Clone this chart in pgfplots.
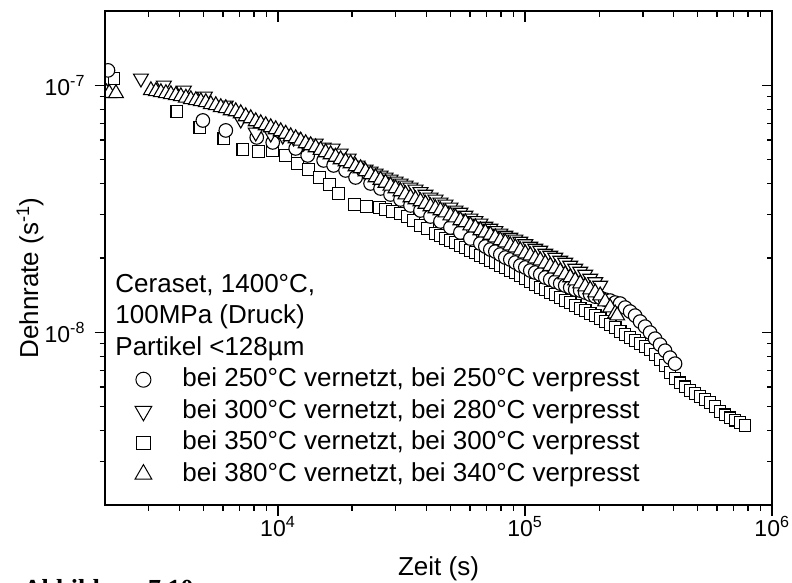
\documentclass[border=0pt]{standalone}
\usepackage{fontspec}
\setmainfont{Liberation Sans}
\newfontfamily\seriffont{Liberation Serif}
\usepackage{pgfplots}
\pgfplotsset{compat=1.18}
\begin{document}
\begin{tikzpicture}
\begin{axis}[
  xmode=log, ymode=log,
  scale only axis, width=667pt, height=494pt,
  xmin=2000, xmax=1e6, ymin=2e-9, ymax=2e-7,
  axis line style={line width=1.7pt},
  major tick style={black, line width=1.5pt},
  minor tick style={black, line width=1.5pt},
  major tick length=10.5pt, minor tick length=5.5pt,
  xtick={1e4,1e5,1e6},
  ytick={1e-8,1e-7},
  minor xtick={3e3,4e3,5e3,6e3,7e3,8e3,9e3,2e4,3e4,4e4,5e4,6e4,7e4,8e4,9e4,2e5,3e5,4e5,5e5,6e5,7e5,8e5,9e5},
  minor ytick={3e-9,4e-9,5e-9,6e-9,7e-9,8e-9,9e-9,2e-8,3e-8,4e-8,5e-8,6e-8,7e-8,8e-8,9e-8},
  tick align=outside, xtick pos=left, ytick pos=left,
  xticklabels={10\textsuperscript{4},10\textsuperscript{5},10\textsuperscript{6}},
  yticklabels={10\textsuperscript{-8},10\textsuperscript{-7}},
  ticklabel style={font=\fontsize{23}{28}\selectfont},
  xticklabel style={yshift=3pt},
  yticklabel style={xshift=-6pt},
  xlabel={Zeit (s)}, ylabel={Dehnrate (s\textsuperscript{-1})},
  label style={font=\fontsize{26}{31}\selectfont},
  xlabel style={at={(axis description cs:0.5,-0.1417)}, anchor=base},
  ylabel style={at={(axis description cs:-0.1004,0.4595)}, anchor=base},
  clip marker paths=true,
  legend cell align=left,
  legend style={draw=none, fill=none, at={(0.0445,0.4717)}, anchor=north west,
    inner sep=0pt, column sep=30.7pt, row sep=5.5pt,
    nodes={inner sep=0pt, text height=20pt, text depth=6pt},
    font=\fontsize{26}{31}\selectfont},
]
\addlegendimage{empty legend}
\addlegendentry{\hspace*{-67pt}Ceraset, 1400°C,}
\addlegendimage{empty legend}
\addlegendentry{\hspace*{-67pt}100MPa (Druck)}
\addlegendimage{empty legend}
\addlegendentry{\hspace*{-67pt}Partikel <128µm}
\addlegendimage{only marks, mark=*, mark size=7.5pt, mark options={fill=white, draw=black, line width=1pt}}
\addlegendentry{bei 250°C vernetzt, bei 250°C verpresst}
\addlegendimage{only marks, mark=triangle*, mark size=9.6pt, mark options={fill=white, draw=black, line width=1pt, rotate=180}}
\addlegendentry{bei 300°C vernetzt, bei 280°C verpresst}
\addlegendimage{only marks, mark=square*, mark size=6.6pt, mark options={fill=white, draw=black, line width=1pt}}
\addlegendentry{bei 350°C vernetzt, bei 300°C verpresst}
\addlegendimage{only marks, mark=triangle*, mark size=9.6pt, mark options={fill=white, draw=black, line width=1pt}}
\addlegendentry{bei 380°C vernetzt, bei 340°C verpresst}

% squares: 350/300
\addplot[only marks, forget plot, mark=square*, mark size=5.8pt, mark options={fill=white, draw=black, line width=1.1pt}] table {
x y
2174 1.0675e-7
3906 7.845e-8
4839 6.758e-8
6048 6.099e-8
7218 5.504e-8
8377 5.402e-8
9542 5.453e-8
10770 5.204e-8
12041 4.830e-8
13338 4.567e-8
14775 4.238e-8
16215 3.971e-8
17631 3.650e-8
20461 3.295e-8
22878 3.234e-8
25819 3.204e-8
27300 3.144e-8
29138 3.086e-8
31388 3.029e-8
33501 2.945e-8
35422 2.838e-8
37806 2.708e-8
40351 2.633e-8
43467 2.514e-8
45537 2.467e-8
47705 2.399e-8
49976 2.355e-8
52355 2.311e-8
54847 2.247e-8
57458 2.205e-8
60194 2.145e-8
63060 2.105e-8
66062 2.047e-8
69207 2.009e-8
72502 1.954e-8
75953 1.918e-8
79569 1.865e-8
83357 1.831e-8
87326 1.780e-8
91483 1.747e-8
95838 1.699e-8
100400 1.652e-8
105180 1.606e-8
110190 1.562e-8
115430 1.518e-8
120930 1.490e-8
126680 1.450e-8
132720 1.423e-8
139030 1.383e-8
145650 1.345e-8
152590 1.320e-8
159850 1.284e-8
167460 1.249e-8
175430 1.225e-8
183780 1.191e-8
192530 1.169e-8
201700 1.137e-8
211300 1.106e-8
221360 1.075e-8
231900 1.045e-8
242940 1.008e-8
254500 9.80e-9
266620 9.52e-9
279310 9.26e-9
292610 9.00e-9
306540 8.76e-9
321130 8.52e-9
336420 8.12e-9
352430 7.76e-9
369210 7.33e-9
386790 6.87e-9
405200 6.50e-9
424490 6.25e-9
444700 6.02e-9
465870 5.81e-9
488050 5.65e-9
511280 5.49e-9
535620 5.34e-9
561120 5.19e-9
587830 5.00e-9
615820 4.78e-9
645130 4.64e-9
675840 4.51e-9
708020 4.41e-9
741720 4.31e-9
777030 4.19e-9
};

% circles: 250/250
\addplot[only marks, forget plot, mark=*, mark size=6.8pt, mark options={fill=white, draw=black, line width=1.1pt}] table {
x y
2056 1.150e-7
4976 7.21e-8
6162 6.57e-8
8222 6.156e-8
9542 5.875e-8
11819 5.555e-8
13215 5.204e-8
15335 4.967e-8
16830 4.741e-8
18818 4.525e-8
20652 4.238e-8
23745 4.008e-8
26060 3.825e-8
28600 3.616e-8
31388 3.452e-8
34448 3.264e-8
37806 3.115e-8
41492 2.945e-8
45537 2.812e-8
49976 2.658e-8
54847 2.537e-8
60194 2.399e-8
66062 2.290e-8
69207 2.226e-8
72502 2.165e-8
75953 2.125e-8
79569 2.066e-8
83357 2.009e-8
87326 1.972e-8
91483 1.918e-8
95838 1.865e-8
100400 1.831e-8
105180 1.780e-8
110190 1.747e-8
115430 1.715e-8
120930 1.668e-8
126680 1.637e-8
132720 1.606e-8
139030 1.576e-8
145650 1.547e-8
152590 1.518e-8
159850 1.490e-8
167460 1.477e-8
175430 1.450e-8
183780 1.423e-8
192530 1.396e-8
201700 1.383e-8
211300 1.357e-8
221360 1.345e-8
231900 1.320e-8
242940 1.308e-8
254500 1.260e-8
266620 1.214e-8
279310 1.169e-8
292610 1.106e-8
306540 1.055e-8
321130 9.98e-9
336420 9.43e-9
352430 8.92e-9
369210 8.43e-9
386790 7.90e-9
405200 7.47e-9
};

% down triangles: 300/280
\addplot[only marks, forget plot, mark=triangle*, mark size=8.6pt, mark options={fill=white, draw=black, line width=1.1pt, rotate=180}] table {
x y
1960 1.29e-7
2795 1.0675e-7
3461 1.0e-7
4170 9.544e-8
5069 9.024e-8
6162 8.298e-8
7085 7.281e-8
8146 6.450e-8
9366 6.390e-8
10473 6.272e-8
11601 6.156e-8
12732 5.875e-8
14236 5.821e-8
15335 5.607e-8
16674 5.555e-8
17962 5.302e-8
19350 5.060e-8
21040 4.741e-8
22666 4.567e-8
23745 4.483e-8
24875 4.400e-8
26060 4.318e-8
27300 4.238e-8
28600 4.160e-8
29962 4.084e-8
31388 4.008e-8
32883 3.934e-8
34448 3.861e-8
36088 3.790e-8
37806 3.702e-8
39606 3.616e-8
41492 3.517e-8
43467 3.452e-8
45537 3.357e-8
47705 3.295e-8
49976 3.204e-8
52355 3.115e-8
54847 3.057e-8
57458 2.973e-8
60194 2.891e-8
63060 2.825e-8
66062 2.760e-8
69207 2.683e-8
72502 2.633e-8
75953 2.573e-8
79569 2.514e-8
83357 2.467e-8
87326 2.421e-8
91483 2.377e-8
95838 2.333e-8
100400 2.279e-8
105180 2.226e-8
110190 2.185e-8
115430 2.145e-8
120930 2.086e-8
126680 2.047e-8
132720 2.009e-8
139030 1.954e-8
145650 1.918e-8
152590 1.865e-8
159850 1.814e-8
167460 1.763e-8
175430 1.715e-8
183780 1.652e-8
192530 1.598e-8
201700 1.547e-8
};

% up triangles: 380/340
\addplot[only marks, forget plot, mark=triangle*, mark size=8.6pt, mark options={fill=white, draw=black, line width=1.1pt}] table {
x y
1990 9.5e-8
2030 9.35e-8
2080 9.3e-8
2215 9.28e-8
3067 9.544e-8
3213 9.455e-8
3366 9.368e-8
3527 9.281e-8
3695 9.194e-8
3870 9.109e-8
4055 9.024e-8
4248 8.899e-8
4450 8.775e-8
4662 8.694e-8
4884 8.613e-8
5116 8.533e-8
5360 8.375e-8
5615 8.298e-8
5882 8.145e-8
6162 8.069e-8
6456 7.919e-8
6763 7.845e-8
7085 7.700e-8
7422 7.488e-8
7776 7.349e-8
8146 7.147e-8
8534 7.015e-8
8940 6.885e-8
9366 6.758e-8
9812 6.633e-8
10280 6.510e-8
10770 6.360e-8
11282 6.214e-8
11819 6.099e-8
12382 5.964e-8
12971 5.821e-8
13589 5.713e-8
14236 5.607e-8
14913 5.47e-8
15623 5.352e-8
16367 5.253e-8
17146 5.132e-8
17962 5.013e-8
18818 4.921e-8
19714 4.830e-8
20652 4.697e-8
21636 4.610e-8
22666 4.483e-8
23745 4.359e-8
24875 4.238e-8
26060 4.14e-8
27300 4.027e-8
28600 3.92e-8
29962 3.825e-8
31388 3.719e-8
32883 3.616e-8
34448 3.517e-8
36088 3.452e-8
37806 3.388e-8
39606 3.310e-8
41492 3.234e-8
43467 3.174e-8
45537 3.115e-8
47705 3.057e-8
49976 2.973e-8
52355 2.918e-8
54847 2.838e-8
57458 2.786e-8
60194 2.708e-8
63060 2.658e-8
66062 2.585e-8
69207 2.537e-8
72502 2.479e-8
75953 2.421e-8
79569 2.355e-8
83357 2.311e-8
87326 2.247e-8
91483 2.205e-8
95838 2.145e-8
100400 2.086e-8
105180 2.047e-8
110190 1.990e-8
115430 1.954e-8
120930 1.900e-8
126680 1.856e-8
132720 1.814e-8
139030 1.763e-8
145650 1.715e-8
152590 1.668e-8
159850 1.621e-8
167460 1.576e-8
175430 1.533e-8
183780 1.490e-8
192530 1.450e-8
201700 1.409e-8
211300 1.332e-8
221360 1.260e-8
231900 1.191e-8
236260 1.169e-8
};
\end{axis}
\begin{axis}[
  xmode=log, ymode=log,
  scale only axis, width=667pt, height=494pt,
  xmin=2000, xmax=1e6, ymin=2e-9, ymax=2e-7,
  axis line style={line width=1.7pt},
  major tick style={black, line width=1.5pt},
  minor tick style={black, line width=1.5pt},
  major tick length=10.5pt, minor tick length=5.5pt,
  xtick={1e4,1e5,1e6},
  ytick={1e-8,1e-7},
  minor xtick={3e3,4e3,5e3,6e3,7e3,8e3,9e3,2e4,3e4,4e4,5e4,6e4,7e4,8e4,9e4,2e5,3e5,4e5,5e5,6e5,7e5,8e5,9e5},
  minor ytick={3e-9,4e-9,5e-9,6e-9,7e-9,8e-9,9e-9,2e-8,3e-8,4e-8,5e-8,6e-8,7e-8,8e-8,9e-8},
  tick align=inside, xtick pos=right, ytick pos=right,
  xticklabels={,,}, yticklabels={,},
]
\end{axis}
\node[anchor=north west, inner sep=0pt, font=\seriffont\bfseries\fontsize{26}{31}\selectfont] at (-82pt,-74pt) {Abbildung 7.10};
\pgfresetboundingbox
\path[use as bounding box] (-105pt,-77pt) rectangle (687pt,505pt);
\end{tikzpicture}
\end{document}
